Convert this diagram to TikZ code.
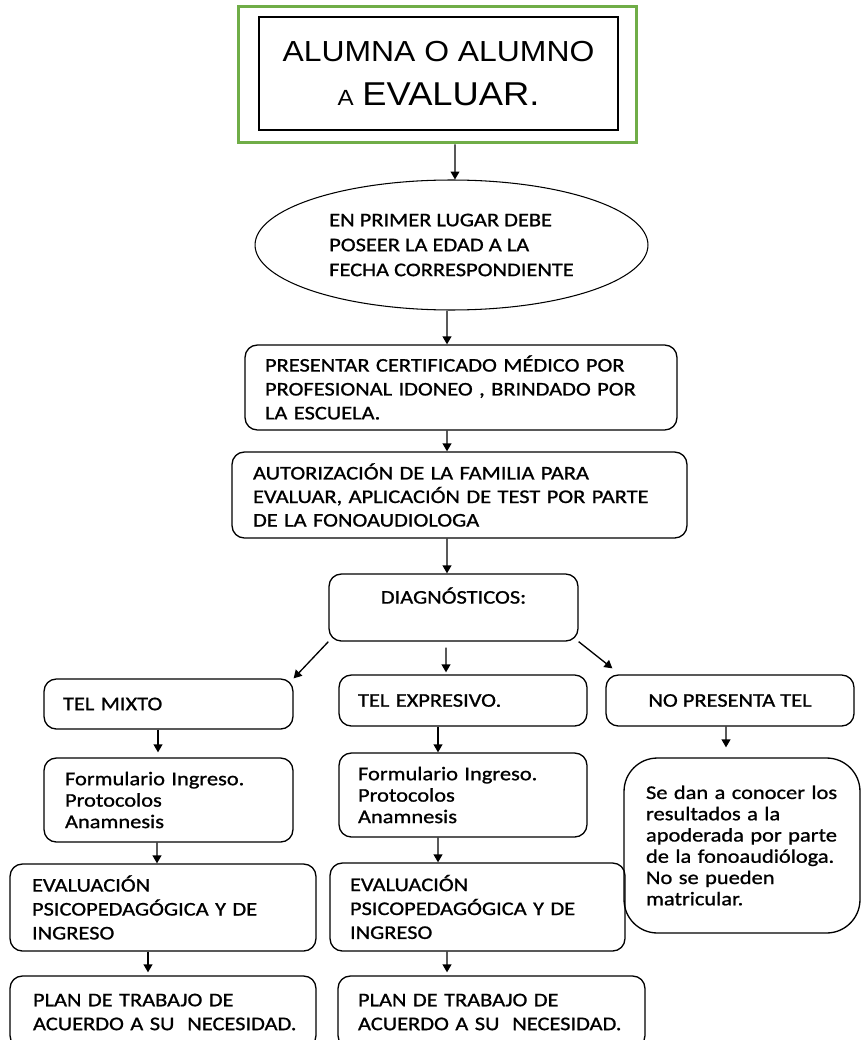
\documentclass[tikz,border=0pt]{standalone}
\usepackage{fontspec}
\setmainfont{Carlito}[FakeStretch=1.16, FakeBold=1]
\newfontfamily\arialfont{Liberation Sans}[FakeStretch=1.1]
\usetikzlibrary{shapes.geometric, arrows.meta, calc}
\definecolor{framegreen}{RGB}{112,173,71}

\begin{document}
\begin{tikzpicture}[x=0.02cm, y=-0.02cm,
		box/.style={draw, line width=0.75pt, rounded corners=7pt,
			inner xsep=0pt, align=left,
			font=\fontsize{11}{13.6}\selectfont},
		tight/.style={font=\fontsize{11}{12.2}\selectfont},
		arr/.style={-{Triangle[length=4.5pt, width=5pt]}, line width=0.75pt}
		]
		\useasboundingbox (0,0) rectangle (861,1040);
		
		% ── Top: student ──
		\node[draw=framegreen, line width=1.7pt, minimum width=7.98cm, minimum height=2.74cm] (frame) at (437.5,74.5) {};
		\node[draw, line width=1pt, minimum width=7.18cm, minimum height=2.26cm, align=center,
			font=\arialfont\fontsize{16.5}{25}\selectfont] (student) at (438.5,73.5)
			{ALUMNA O ALUMNO\\{\fontsize{12.5}{25}\selectfont A} {\fontsize{18.8}{25}\selectfont EVALUAR.}};
		
		% ── Main column ──
		\node[ellipse, draw, line width=0.6pt, minimum width=7.86cm, minimum height=2.6cm, align=left,
			font=\fontsize{11}{14.2}\selectfont] (age) at (451.5,245)
			{EN PRIMER LUGAR DEBE\\POSEER LA EDAD A LA\\FECHA CORRESPONDIENTE};
		\node[box, minimum width=8.64cm, minimum height=1.7cm, text width=7.84cm] (cert) at (461,387.5)
			{PRESENTAR CERTIFICADO MÉDICO POR\\PROFESIONAL IDONEO , BRINDADO POR\\LA ESCUELA.};
		\node[box, minimum width=9.1cm, minimum height=1.72cm, text width=8.26cm,
			font=\fontsize{11}{13.4}\selectfont] (auth) at (459.5,495)
			{AUTORIZACIÓN DE LA FAMILIA PARA\\EVALUAR, APLICACIÓN DE TEST POR PARTE\\DE LA FONOAUDIOLOGA};
		\node[box, minimum width=4.98cm, minimum height=1.34cm, align=center] (diag) at (453.5,607.5)
			{DIAGNÓSTICOS:\\\mbox{}};
		
		% ── Diagnoses ──
		\node[box, minimum width=4.98cm, minimum height=1.0cm, text width=4.22cm] (mixed) at (168.5,704) {TEL MIXTO};
		\node[box, minimum width=4.96cm, minimum height=1.02cm, text width=4.2cm] (expr) at (463,700.5) {TEL EXPRESIVO.};
		\node[box, minimum width=4.96cm, minimum height=1.02cm, align=center] (none) at (730,700.5) {NO PRESENTA TEL};
		
		% ── Forms ──
		\node[box, tight, minimum width=4.98cm, minimum height=1.68cm, text width=4.14cm] (formL) at (168.5,800)
			{Formulario Ingreso.\\Protocolos\\Anamnesis};
		\node[box, tight, minimum width=4.96cm, minimum height=1.68cm, text width=4.2cm] (formM) at (463,795)
			{Formulario Ingreso.\\Protocolos\\Anamnesis};
		\node[box, tight, rounded corners=19pt, minimum width=4.72cm, minimum height=3.5cm, text width=3.84cm,
			font=\fontsize{11}{12.1}\selectfont] (result) at (742,845.5)
			{Se dan a conocer los\\resultados a la\\apoderada por parte\\de la fonoaudióloga.\\No se pueden\\matricular.};
		
		% ── Evaluation and plan ──
		\node[box, minimum width=6.12cm, minimum height=1.74cm, text width=5.24cm] (evalL) at (163,907.5)
			{EVALUACIÓN\\PSICOPEDAGÓGICA Y DE\\INGRESO};
		\node[box, minimum width=5.9cm, minimum height=1.76cm, text width=5.1cm] (evalM) at (477.5,907)
			{EVALUACIÓN\\PSICOPEDAGÓGICA Y DE\\INGRESO};
		\node[box, minimum width=6.12cm, minimum height=1.44cm, text width=5.2cm] (planL) at (163,1012)
			{PLAN DE TRABAJO DE\\\mbox{ACUERDO A SU\ \ NECESIDAD.}};
		\node[box, minimum width=6.14cm, minimum height=1.44cm, text width=5.34cm] (planM) at (491.5,1012)
			{PLAN DE TRABAJO DE\\\mbox{ACUERDO A SU\ \ NECESIDAD.}};
		
		% Arrows
		\draw[arr] ([xshift=0.35cm]frame.south) -- ([xshift=0.07cm]age.north);
		\draw[arr] ([xshift=-0.09cm]age.south) -- ([xshift=-0.28cm]cert.north);
		\draw[arr] ([xshift=-0.28cm]cert.south) -- ([xshift=-0.25cm]auth.north);
		\draw[arr] ([xshift=-0.25cm]auth.south) -- ([xshift=-0.13cm]diag.north);
		\draw[arr] (diag.south west) -- (mixed.north east);
		\draw[arr, shorten <=0.12cm, shorten >=0.04cm] ([xshift=-0.15cm]diag.south) -- ([xshift=-0.34cm]expr.north);
		\draw[arr] (diag.south east) -- ([xshift=0.14cm, yshift=0.12cm]none.north west);
		\draw[arr, shorten >=0.1cm] ([xshift=-0.21cm]mixed.south) -- ([xshift=-0.21cm]formL.north);
		\draw[arr] ([xshift=-0.5cm]expr.south) -- ([xshift=-0.5cm]formM.north);
		\draw[arr, shorten >=0.2cm] ([xshift=-0.08cm]none.south) -- ([xshift=-0.32cm]result.north);
		\draw[arr] ([xshift=-0.23cm]formL.south) -- ([xshift=-0.12cm]evalL.north);
		\draw[arr] ([xshift=-0.5cm]formM.south) -- ([xshift=-0.79cm]evalM.north);
		\draw[arr, shorten >=0.06cm] ([xshift=-0.3cm]evalL.south) -- ([xshift=-0.3cm]planL.north);
		\draw[arr, shorten >=0.06cm] ([xshift=-0.61cm]evalM.south) -- ([xshift=-0.89cm]planM.north);
	\end{tikzpicture}
\end{document}
